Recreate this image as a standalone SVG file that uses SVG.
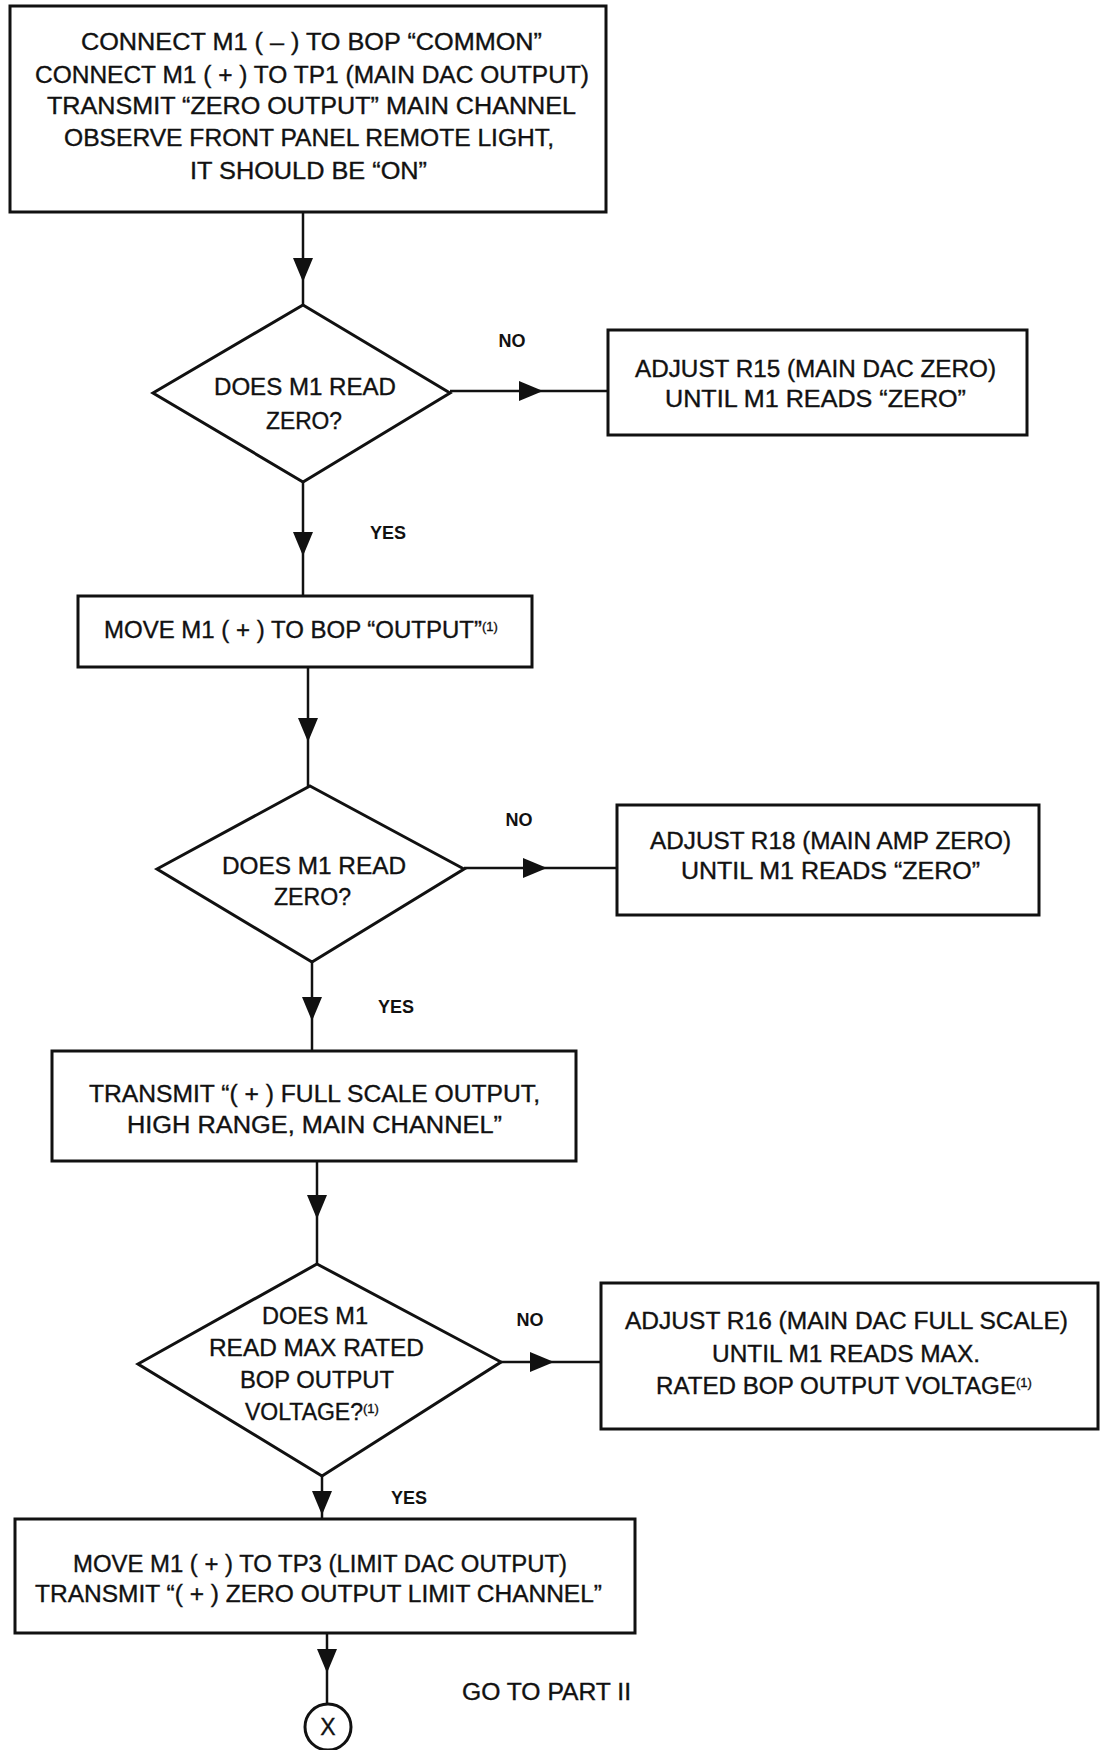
<svg xmlns="http://www.w3.org/2000/svg" width="1100" height="1750" viewBox="0 0 1100 1750">
<defs>
<style>
.box{fill:#fff;stroke:#111;stroke-width:3}
.t{font-family:"Liberation Sans",Arial,sans-serif;font-size:23px;fill:#111;stroke:#111;stroke-width:0.35}
.lbl{font-family:"Liberation Sans",Arial,sans-serif;font-size:18px;font-weight:bold;fill:#111;text-anchor:middle}
.sup{font-size:13px}
.c{fill:none;stroke:#111;stroke-width:2.5;marker-mid:url(#arr)}
</style>
<marker id="arr" markerUnits="userSpaceOnUse" markerWidth="26" markerHeight="22" refX="24" refY="10" orient="auto">
<path d="M0,0 L24,10 L0,20 z" fill="#111"/>
</marker>
</defs>
<rect width="1100" height="1750" fill="#fff"/>
<g id="connectors">
<path class="c" d="M303,212 L303,282 L303,305"/>
<path class="c" d="M450,391 L543,391 L608,391"/>
<path class="c" d="M303,482 L303,556 L303,596"/>
<path class="c" d="M308,667 L308,742 L308,786"/>
<path class="c" d="M464,868 L547,868 L617,868"/>
<path class="c" d="M312,962 L312,1021 L312,1051"/>
<path class="c" d="M317,1161 L317,1219 L317,1264"/>
<path class="c" d="M501,1362 L554,1362 L601,1362"/>
<path class="c" d="M322,1476 L322,1515 L322,1519"/>
<path class="c" d="M327,1633 L327,1673 L327,1704"/>
</g>
<g id="labels">
<text class="lbl" x="512" y="347">NO</text>
<text class="lbl" x="388" y="539">YES</text>
<text class="lbl" x="519" y="826">NO</text>
<text class="lbl" x="396" y="1013">YES</text>
<text class="lbl" x="530" y="1326">NO</text>
<text class="lbl" x="409" y="1504">YES</text>
</g>
<g id="n1">
<rect class="box" x="10" y="6" width="596" height="206"/>
<text class="t" x="81" y="50" textLength="461" lengthAdjust="spacingAndGlyphs">CONNECT M1 ( – ) TO BOP “COMMON”</text>
<text class="t" x="35" y="83" textLength="554" lengthAdjust="spacingAndGlyphs">CONNECT M1 ( + ) TO TP1 (MAIN DAC OUTPUT)</text>
<text class="t" x="47" y="114" textLength="529" lengthAdjust="spacingAndGlyphs">TRANSMIT “ZERO OUTPUT” MAIN CHANNEL</text>
<text class="t" x="64" y="146" textLength="490" lengthAdjust="spacingAndGlyphs">OBSERVE FRONT PANEL REMOTE LIGHT,</text>
<text class="t" x="190" y="179" textLength="237" lengthAdjust="spacingAndGlyphs">IT SHOULD BE “ON”</text>
</g>
<g id="d1">
<polygon class="box" points="303,305 450,393 303,482 153,393"/>
<text class="t" x="214" y="395" textLength="182" lengthAdjust="spacingAndGlyphs">DOES M1 READ</text>
<text class="t" x="266" y="429" textLength="76" lengthAdjust="spacingAndGlyphs">ZERO?</text>
</g>
<g id="n2">
<rect class="box" x="608" y="330" width="419" height="105"/>
<text class="t" x="635" y="377" textLength="361" lengthAdjust="spacingAndGlyphs">ADJUST R15 (MAIN DAC ZERO)</text>
<text class="t" x="665" y="407" textLength="301" lengthAdjust="spacingAndGlyphs">UNTIL M1 READS “ZERO”</text>
</g>
<g id="n3">
<rect class="box" x="78" y="596" width="454" height="71"/>
<text class="t" x="104" y="638"><tspan textLength="378" lengthAdjust="spacingAndGlyphs">MOVE M1 ( + ) TO BOP “OUTPUT”</tspan><tspan class="sup" dy="-7">(1)</tspan></text>
</g>
<g id="d2">
<polygon class="box" points="310,786 464,869 312,962 157,869"/>
<text class="t" x="222" y="874" textLength="184" lengthAdjust="spacingAndGlyphs">DOES M1 READ</text>
<text class="t" x="274" y="905" textLength="77" lengthAdjust="spacingAndGlyphs">ZERO?</text>
</g>
<g id="n4">
<rect class="box" x="617" y="805" width="422" height="110"/>
<text class="t" x="650" y="849" textLength="361" lengthAdjust="spacingAndGlyphs">ADJUST R18 (MAIN AMP ZERO)</text>
<text class="t" x="681" y="879" textLength="299" lengthAdjust="spacingAndGlyphs">UNTIL M1 READS “ZERO”</text>
</g>
<g id="n5">
<rect class="box" x="52" y="1051" width="524" height="110"/>
<text class="t" x="89" y="1102" textLength="451" lengthAdjust="spacingAndGlyphs">TRANSMIT “( + ) FULL SCALE OUTPUT,</text>
<text class="t" x="127" y="1133" textLength="375" lengthAdjust="spacingAndGlyphs">HIGH RANGE, MAIN CHANNEL”</text>
</g>
<g id="d3">
<polygon class="box" points="317,1264 501,1362 322,1476 138,1364"/>
<text class="t" x="262" y="1324" textLength="106" lengthAdjust="spacingAndGlyphs">DOES M1</text>
<text class="t" x="209" y="1356" textLength="215" lengthAdjust="spacingAndGlyphs">READ MAX RATED</text>
<text class="t" x="240" y="1388" textLength="154" lengthAdjust="spacingAndGlyphs">BOP OUTPUT</text>
<text class="t" x="245" y="1420"><tspan textLength="118" lengthAdjust="spacingAndGlyphs">VOLTAGE?</tspan><tspan class="sup" dy="-7">(1)</tspan></text>
</g>
<g id="n6">
<rect class="box" x="601" y="1283" width="497" height="146"/>
<text class="t" x="625" y="1329" textLength="443" lengthAdjust="spacingAndGlyphs">ADJUST R16 (MAIN DAC FULL SCALE)</text>
<text class="t" x="712" y="1362" textLength="268" lengthAdjust="spacingAndGlyphs">UNTIL M1 READS MAX.</text>
<text class="t" x="656" y="1394"><tspan textLength="360" lengthAdjust="spacingAndGlyphs">RATED BOP OUTPUT VOLTAGE</tspan><tspan class="sup" dy="-7">(1)</tspan></text>
</g>
<g id="n7">
<rect class="box" x="15" y="1519" width="620" height="114"/>
<text class="t" x="73" y="1572" textLength="494" lengthAdjust="spacingAndGlyphs">MOVE M1 ( + ) TO TP3 (LIMIT DAC OUTPUT)</text>
<text class="t" x="35" y="1602" textLength="567" lengthAdjust="spacingAndGlyphs">TRANSMIT “( + ) ZERO OUTPUT LIMIT CHANNEL”</text>
</g>
<g id="x">
<circle class="box" cx="328" cy="1727" r="23"/>
<text class="t" x="328" y="1735" text-anchor="middle">X</text>
</g>
<text class="t" x="462" y="1700" textLength="169" lengthAdjust="spacingAndGlyphs">GO TO PART II</text>
</svg>
